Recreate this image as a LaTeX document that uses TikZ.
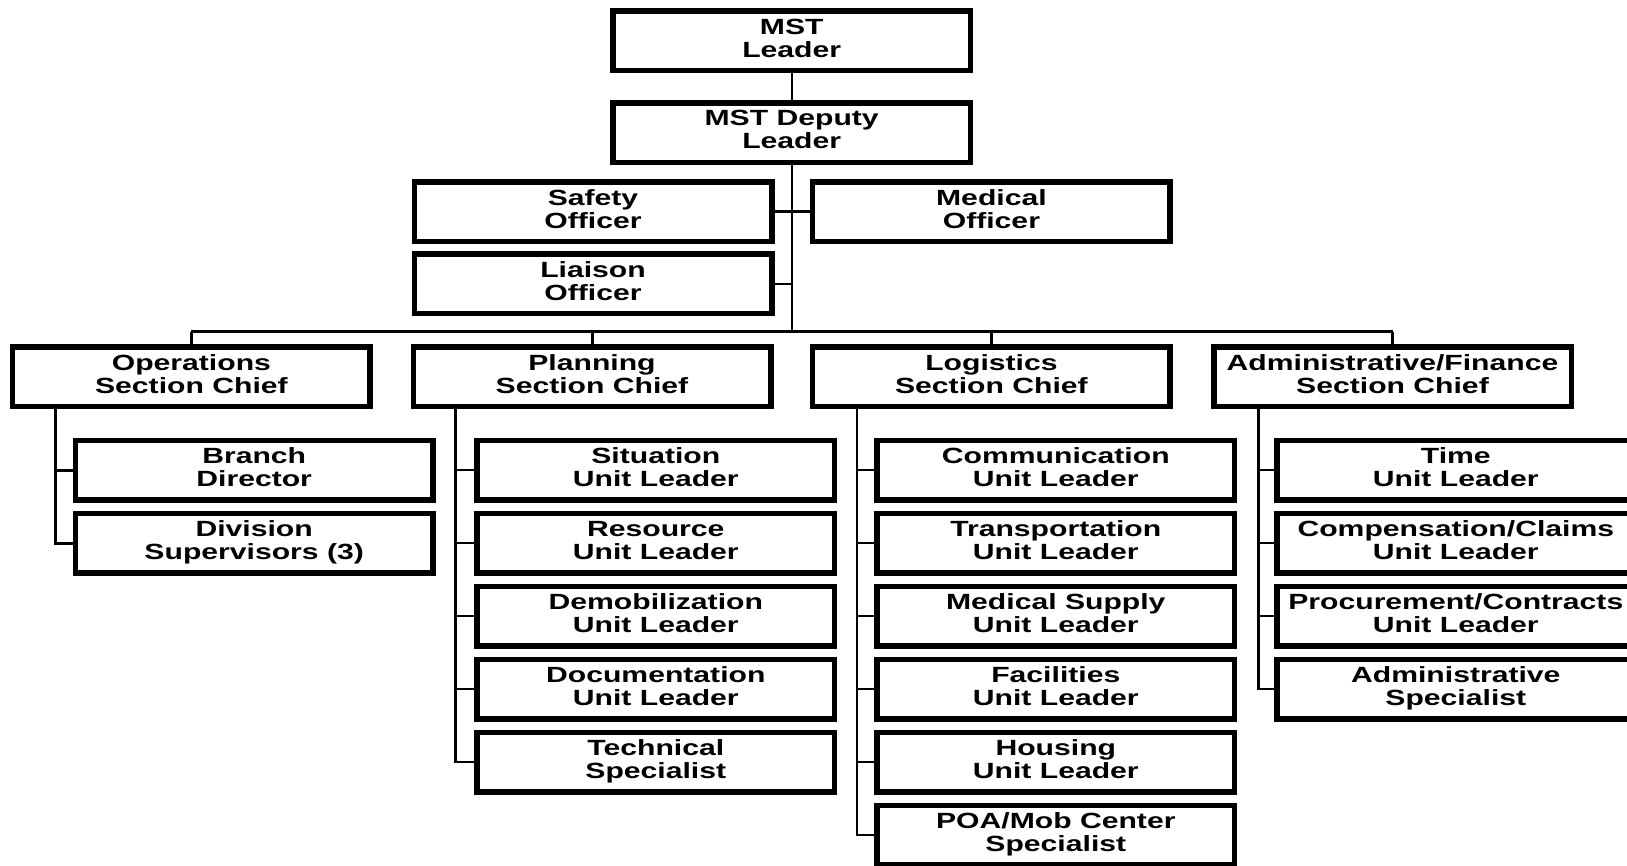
\documentclass[tikz,border=0pt]{standalone}
\usepackage{fontspec}
\setmainfont{Liberation Sans}[FakeStretch=1.37]
\begin{document}
\begin{tikzpicture}[x=1pt,y=-1pt,
  box/.style={draw=black,fill=white,line width=5.5pt,minimum width=357.5pt,minimum height=59.5pt,
    inner sep=0pt,align=center,font=\bfseries\fontsize{22}{23}\selectfont,
    execute at begin node={\rule{0pt}{17pt}},
    execute at end node={\rule[-6pt]{0pt}{6pt}}},
  conn/.style={draw=black,line width=2.4pt},
  bus/.style={draw=black,line width=3pt}]
\clip (0,0) rectangle (1627,866);
\fill[white] (0,0) rectangle (1627,866);
% top
\node[box] (mst) at (791.7,41) {MST\\Leader};
\node[box] (dep) at (791.7,132.8) {MST Deputy\\Leader};
\node[box] (saf) at (593,211.7) {Safety\\Officer};
\node[box] (med) at (991.4,211.7) {Medical\\Officer};
\node[box] (lia) at (593,283.8) {Liaison\\Officer};
% section chiefs
\node[box] (ops) at (191.4,376.7) {Operations\\Section Chief};
\node[box] (pla) at (592,376.7) {Planning\\Section Chief};
\node[box] (log) at (991.4,376.7) {Logistics\\Section Chief};
\node[box] (adm) at (1392.5,376.7) {Administrative/Finance\\Section Chief};
% operations
\node[box] (ops1) at (254.2,470) {Branch\\Director};
\node[box] (ops2) at (254.2,543) {Division\\Supervisors (3)};
% planning
\node[box] (pla1) at (655.8,470) {Situation\\Unit Leader};
\node[box] (pla2) at (655.8,543) {Resource\\Unit Leader};
\node[box] (pla3) at (655.8,616) {Demobilization\\Unit Leader};
\node[box] (pla4) at (655.8,689) {Documentation\\Unit Leader};
\node[box] (pla5) at (655.8,762) {Technical\\Specialist};
% logistics
\node[box] (log1) at (1055.8,470) {Communication\\Unit Leader};
\node[box] (log2) at (1055.8,543) {Transportation\\Unit Leader};
\node[box] (log3) at (1055.8,616) {Medical Supply\\Unit Leader};
\node[box] (log4) at (1055.8,689) {Facilities\\Unit Leader};
\node[box] (log5) at (1055.8,762) {Housing\\Unit Leader};
\node[box] (log6) at (1055.8,835) {POA/Mob Center\\Specialist};
% admin
\node[box] (adm1) at (1455.8,470) {Time\\Unit Leader};
\node[box] (adm2) at (1455.8,543) {Compensation/Claims\\Unit Leader};
\node[box] (adm3) at (1455.8,616) {Procurement/Contracts\\Unit Leader};
\node[box] (adm4) at (1455.8,689) {Administrative\\Specialist};
% coordinates
\coordinate (busy) at (0,332);
\coordinate (opsx) at (55,0);
\coordinate (plax) at (455.5,0);
\coordinate (logx) at (857,0);
\coordinate (admx) at (1258.6,0);
% connectors
\draw[conn] (mst.south) -- (dep.north);
\draw[conn] (dep.south) -- (dep.south |- busy);
\draw[conn] (saf.east) -- (saf.east -| dep.south);
\draw[conn] (med.west) -- (med.west -| dep.south);
\draw[conn] (lia.east) -- (lia.east -| dep.south);
\draw[bus] (ops.north |- busy) -- (adm.north |- busy);
\foreach \c in {ops,pla,log,adm} \draw[bus] (\c.north |- busy) -- (\c.north);
\draw[conn,line width=3pt] (ops.south -| opsx) |- (ops1.west);
\draw[conn,line width=3pt] (ops.south -| opsx) |- (ops2.west);
\foreach \i in {1,...,5} \draw[conn] (pla.south -| plax) |- (pla\i.west);
\foreach \i in {1,...,6} \draw[conn] (log.south -| logx) |- (log\i.west);
\foreach \i in {1,...,4} \draw[conn] (adm.south -| admx) |- (adm\i.west);
\end{tikzpicture}
\end{document}
